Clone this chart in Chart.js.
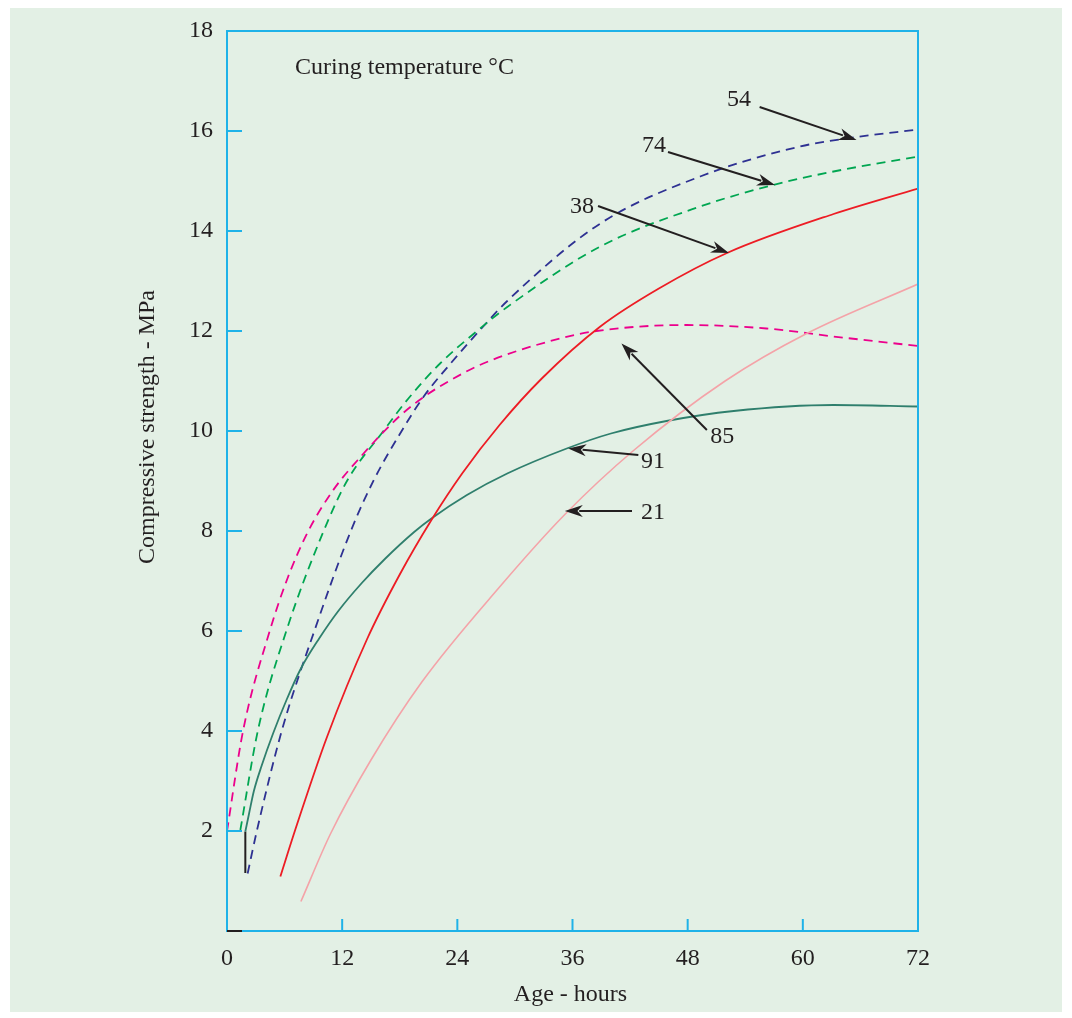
<!DOCTYPE html>
<html>
<head>
<meta charset="utf-8">
<script src="https://cdn.jsdelivr.net/npm/chart.js@4.4.0/dist/chart.umd.min.js"></script>
<style>
  html, body { margin: 0; padding: 0; background: #ffffff; }
  #wrap { position: absolute; left: 10px; top: 8px; width: 1052px; height: 1004px; background: #e3f0e5; }
  #c { position: absolute; left: 0; top: 0; }
</style>
</head>
<body>
<div id="wrap"></div>
<canvas id="c" width="1072" height="1018"></canvas>
<script>
// axis ticks
const hourTicks = [0, 12, 24, 36, 48, 60, 72];
const mpaTicks = [2, 4, 6, 8, 10, 12, 14, 16, 18];

// curing temperature curves (age in hours, strength in MPa)
const age21 = [7.7, 10.8, 15.0, 20.3, 28.4, 35.2, 42.3, 51.9, 60.4, 72];
const mpa21 = [0.59, 1.95, 3.42, 4.98, 6.88, 8.33, 9.6, 11.0, 11.95, 12.94];

const age38 = [5.56, 7.12, 10.42, 14.6, 18.0, 21.3, 24.5, 28.4, 32.8, 38.9, 45.0, 52.1, 63.2, 72];
const mpa38 = [1.09, 2.03, 3.88, 5.84, 7.13, 8.22, 9.15, 10.12, 11.05, 12.09, 12.85, 13.56, 14.34, 14.85];

const age54 = [2.15, 3.13, 5.73, 9.1, 12.9, 15.3, 18.2, 20.5, 23.3, 26.7, 29.2, 38.9, 49.3, 59.7, 65.3, 72];
const mpa54 = [1.15, 2.02, 4.02, 6.0, 8.0, 9.02, 10.0, 10.69, 11.35, 12.09, 12.6, 14.15, 15.09, 15.69, 15.87, 16.03];

const age74 = [1.39, 3.23, 6.18, 10.07, 12.5, 16.3, 18.9, 22.2, 26.05, 29.2, 38.9, 49.3, 56.9, 63.2, 72];
const mpa74 = [2.02, 4.02, 6.0, 8.0, 9.0, 10.0, 10.65, 11.35, 12.0, 12.48, 13.69, 14.49, 14.92, 15.19, 15.49];

const age85 = [0, 1.67, 4.45, 6.3, 8.34, 11.0, 14.0, 18.0, 20.8, 23.6, 26.7, 33.7, 38.5, 47.9, 56.2, 63.2, 72];
const mpa85 = [2.0, 4.0, 6.0, 7.05, 7.95, 8.8, 9.5, 10.3, 10.72, 11.05, 11.35, 11.8, 12.0, 12.12, 12.05, 11.89, 11.7];

const age91 = [1.91, 2.3, 2.8, 3.6, 4.8, 6.2, 7.7, 9.6, 11.6, 14.0, 16.5, 19.5, 21.3, 25.0, 29.2, 35.4, 40.0, 45.8, 52.8, 63.2, 72];
const mpa91 = [1.99, 2.35, 2.8, 3.3, 3.95, 4.62, 5.25, 5.85, 6.4, 6.95, 7.45, 7.98, 8.25, 8.72, 9.15, 9.65, 9.95, 10.2, 10.4, 10.52, 10.49];

const age91Stem = [1.91, 1.91];
const mpa91Stem = [1.16, 1.99];

// curve labels: text, label position, arrow tail, arrow head
const curveLabels = ['54', '74', '38', '85', '91', '21'];
const labelAt = [[53.35, 16.62], [44.5, 15.7], [37.0, 14.48], [51.6, 9.88], [44.4, 9.38], [44.4, 8.36]];
const arrowFrom = [[55.5, 16.48], [45.95, 15.58], [38.66, 14.5], [50.0, 10.02], [42.86, 9.52], [42.2, 8.4]];
const arrowTo = [[65.6, 15.82], [57.1, 14.92], [52.3, 13.56], [41.1, 11.75], [35.56, 9.65], [35.2, 8.4]];

const pts = (xs, ys) => xs.map((x, i) => ({ x: x, y: ys[i] }));

const AXIS = '#1fb2e8';
const INK = '#231f20';
const FONT = '"Liberation Serif", "Times New Roman", serif';

function curve(xs, ys, color, dashed, width) {
  return {
    data: pts(xs, ys),
    borderColor: color,
    borderWidth: width || 1.8,
    borderDash: dashed ? [9, 6] : [],
    pointRadius: 0,
    showLine: true,
    fill: false,
    cubicInterpolationMode: 'monotone'
  };
}

function arrow(ctx, x1, y1, x2, y2) {
  const a = Math.atan2(y2 - y1, x2 - x1);
  const len = 18, half = 6;
  const c = Math.cos(a), s = Math.sin(a);
  ctx.beginPath();
  ctx.moveTo(x1, y1);
  ctx.lineTo(x2 - c * len * 0.8, y2 - s * len * 0.8);
  ctx.stroke();
  ctx.beginPath();
  ctx.moveTo(x2, y2);
  ctx.lineTo(x2 - c * len + s * half, y2 - s * len - c * half);
  ctx.lineTo(x2 - c * len * 0.7, y2 - s * len * 0.7);
  ctx.lineTo(x2 - c * len - s * half, y2 - s * len + c * half);
  ctx.closePath();
  ctx.fill();
}

const decorations = {
  id: 'decorations',
  afterDraw(chart) {
    const ctx = chart.ctx;
    const xs = chart.scales.x, ys = chart.scales.y;
    const area = chart.chartArea;
    ctx.save();

    // frame
    ctx.strokeStyle = AXIS;
    ctx.lineWidth = 2;
    ctx.strokeRect(area.left, area.top, area.right - area.left, area.bottom - area.top);

    // inward ticks
    hourTicks.slice(1, -1).forEach(h => {
      const px = xs.getPixelForValue(h);
      ctx.beginPath();
      ctx.moveTo(px, area.bottom);
      ctx.lineTo(px, area.bottom - 12);
      ctx.stroke();
    });
    mpaTicks.slice(0, -1).forEach(v => {
      const py = ys.getPixelForValue(v);
      ctx.beginPath();
      ctx.moveTo(area.left, py);
      ctx.lineTo(area.left + 15, py);
      ctx.stroke();
    });
    ctx.strokeStyle = INK;
    ctx.beginPath();
    ctx.moveTo(area.left, area.bottom);
    ctx.lineTo(area.left + 15, area.bottom);
    ctx.stroke();

    // texts
    ctx.fillStyle = INK;
    ctx.font = '24px ' + FONT;
    ctx.textBaseline = 'middle';
    ctx.textAlign = 'left';
    ctx.fillText('Curing temperature \u00B0C', xs.getPixelForValue(7.09), ys.getPixelForValue(17.26));

    ctx.textAlign = 'center';
    ctx.fillText('Age - hours', (area.left + area.right) / 2 - 2, 995);
    ctx.save();
    ctx.translate(148, (area.top + area.bottom) / 2 - 54);
    ctx.rotate(-Math.PI / 2);
    ctx.fillText('Compressive strength - MPa', 0, 0);
    ctx.restore();

    // curve labels and arrows
    ctx.strokeStyle = INK;
    ctx.lineWidth = 2;
    curveLabels.forEach((t, i) => {
      ctx.fillText(t, xs.getPixelForValue(labelAt[i][0]), ys.getPixelForValue(labelAt[i][1]));
      arrow(ctx,
        xs.getPixelForValue(arrowFrom[i][0]), ys.getPixelForValue(arrowFrom[i][1]),
        xs.getPixelForValue(arrowTo[i][0]), ys.getPixelForValue(arrowTo[i][1]));
    });
    ctx.restore();
  }
};

new Chart(document.getElementById('c'), {
  type: 'scatter',
  data: {
    datasets: [
      curve(age21, mpa21, '#f4a3a8', false, 1.6),
      curve(age38, mpa38, '#ed1c24', false, 1.8),
      curve(age91, mpa91, '#2f7f6d', false, 1.8),
      curve(age91Stem, mpa91Stem, INK, false, 2),
      curve(age85, mpa85, '#ec008c', true),
      curve(age74, mpa74, '#00a651', true),
      curve(age54, mpa54, '#2e3192', true)
    ]
  },
  plugins: [decorations],
  options: {
    responsive: false,
    animation: false,
    layout: { padding: { left: 0, right: 154, top: 31, bottom: 0 } },
    plugins: { legend: { display: false }, tooltip: { enabled: false } },
    scales: {
      x: {
        type: 'linear',
        min: 0, max: 72,
        afterFit: s => { s.height = 87; },
        afterBuildTicks: s => { s.ticks = hourTicks.map(v => ({ value: v })); },
        grid: { display: false, drawTicks: false },
        border: { display: false },
        ticks: { color: INK, font: { family: FONT, size: 24 }, padding: 13, maxRotation: 0 }
      },
      y: {
        type: 'linear',
        min: 0, max: 18,
        afterFit: s => { s.width = 227; },
        afterBuildTicks: s => { s.ticks = mpaTicks.map(v => ({ value: v })); },
        grid: { display: false, drawTicks: false },
        border: { display: false },
        ticks: { color: INK, font: { family: FONT, size: 24 }, padding: 14 }
      }
    }
  }
});
</script>
</body>
</html>
